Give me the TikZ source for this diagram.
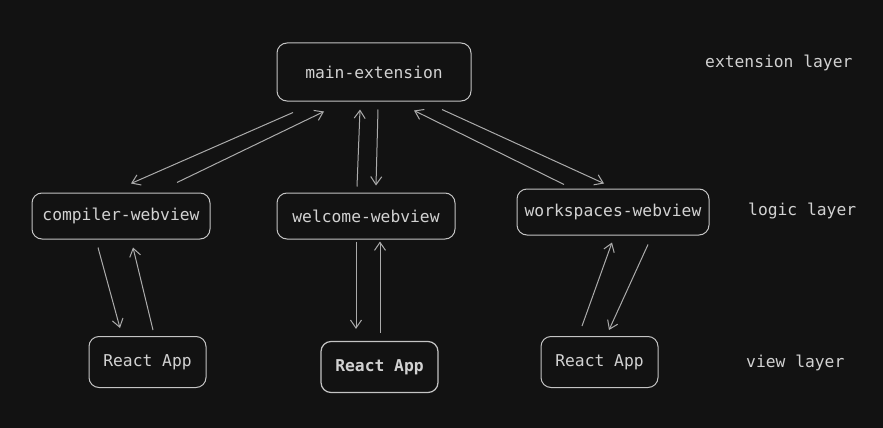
\documentclass[tikz,border=0pt]{standalone}
\usepackage{fontspec}
\setmonofont{DejaVu Sans Mono}
\usetikzlibrary{arrows.meta,calc}

\begin{document}
\begin{tikzpicture}[
        x=1pt, y=-1pt,
    every node/.style={font=\ttfamily\fontsize{16.3}{18}\selectfont, text=txt, inner sep=0pt},
    box/.style={draw=edge, rounded corners=10pt, line width=1pt},
    link/.style={draw=wire, line width=1pt, -{Straight Barb[length=8pt,width=11pt]}}
]
    \definecolor{bgx}{HTML}{121212}
    \definecolor{txt}{HTML}{D2D2D2}
    \definecolor{edge}{HTML}{C4C4C4}
    \definecolor{wire}{HTML}{ABABAB}

    \fill [bgx] (0,0) rectangle (883,428);
    \useasboundingbox (0,0) rectangle (883,428);

    \node [box, minimum width=194pt, minimum height=58pt] (main) at (374,72) {main-extension};
    \node [box, minimum width=178pt, minimum height=46pt] (comp) at (121,216) {compiler-webview};
    \node [box, minimum width=178pt, minimum height=46pt] (welc) at (366,216) {welcome-webview};
    \node [box, minimum width=192pt, minimum height=46pt] (work) at (613,212) {workspaces-webview};
    \node [box, minimum width=117pt, minimum height=51pt] (ra) at (147.5,362) {React App};
    \node [box, minimum width=117pt, minimum height=51pt, line width=1.2pt] (rb) at (379.5,367) {\bfseries React App};
    \node [box, minimum width=117pt, minimum height=51pt] (rc) at (599.5,362) {React App};

    \node [anchor=west] (extl) at (705,63) {extension layer};
    \node [anchor=west] (logl) at (748,211) {logic layer};
    \node [anchor=west] (viewl) at (746,363) {view layer};

    \draw [link] ($(main.south)+(-81,11)$) -- ($(comp.north)+(10,-9)$);
    \draw [link] ($(comp.north)+(56,-10)$) -- ($(main.south)+(-50,10)$);
    \draw [link] ($(welc.north)+(-9,-6)$) -- ($(main.south)+(-14,8)$);
    \draw [link] ($(main.south)+(4,8)$) -- ($(welc.north)+(10,-7)$);
    \draw [link] ($(main.south)+(68,8)$) -- ($(work.north)+(-9,-5)$);
    \draw [link] ($(work.north)+(-49,-4)$) -- ($(main.south)+(40,9)$);

    \draw [link] ($(comp.south)+(-23,8)$) -- ($(ra.north)+(-27.5,-8)$);
    \draw [link] ($(ra.north)+(5.5,-6)$) -- ($(comp.south)+(12,8)$);
    \draw [link] ($(welc.south)+(-10,2)$) -- ($(rb.north)+(-23.5,-12)$);
    \draw [link] ($(rb.north)+(0.5,-8)$) -- ($(welc.south)+(14,2)$);
    \draw [link] ($(rc.north)+(-17.5,-10)$) -- ($(work.south)+(-1,7)$);
    \draw [link] ($(work.south)+(35,9)$) -- ($(rc.north)+(9.5,-6)$);
\end{tikzpicture}
\end{document}
